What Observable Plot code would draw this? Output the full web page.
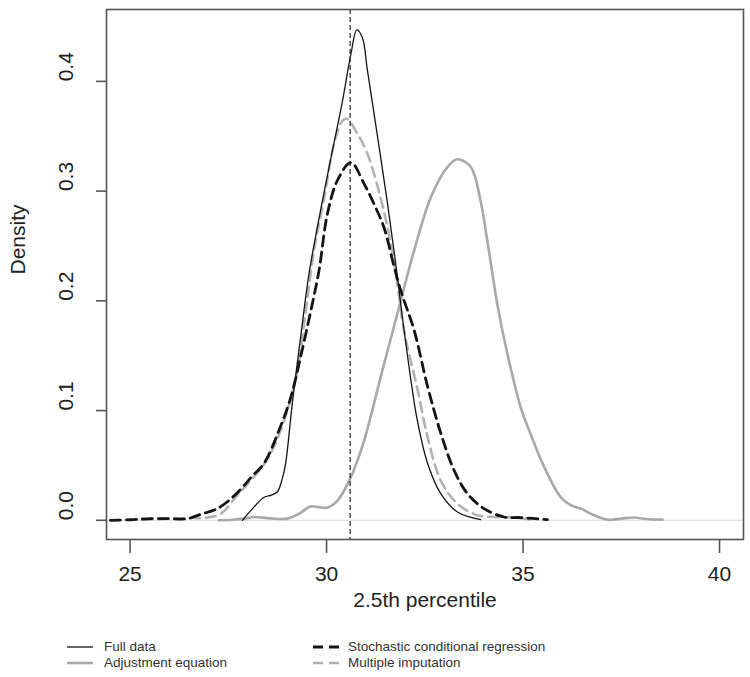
<!DOCTYPE html>
<html>
<head>
<meta charset="utf-8">
<script src="https://cdn.jsdelivr.net/npm/d3@7"></script>
<script src="https://cdn.jsdelivr.net/npm/@observablehq/plot@0.6"></script>
<style>
  html, body { margin: 0; padding: 0; background: #fff; }
  #wrap { width: 750px; font-family: "Liberation Sans", Arial, Helvetica, sans-serif; }
  #legend { position: relative; width: 750px; height: 52px; color: #333; font-size: 13.5px; }
  #legend .item { position: absolute; height: 16px; line-height: 16px; white-space: nowrap; }
  #legend svg { position: absolute; }
</style>
</head>
<body>
<div id="wrap">
  <div id="chart"></div>
  <div id="legend"></div>
</div>
<script>
// ---- data ----
const fullX = [27.86, 28.1, 28.41, 28.6, 28.75, 28.85, 28.95, 29.13, 29.34, 29.55, 29.77, 30.11, 30.40, 30.62, 30.77, 30.91, 31.04, 31.30, 31.55, 31.76, 31.93, 32.19, 32.31, 32.57, 32.91, 33.33, 33.92];
const fullY = [0, 0.010, 0.021, 0.023, 0.026, 0.035, 0.050, 0.107, 0.167, 0.224, 0.268, 0.330, 0.381, 0.425, 0.447, 0.440, 0.410, 0.349, 0.289, 0.234, 0.185, 0.117, 0.091, 0.052, 0.024, 0.0076, 0.0006];

const adjX = [27.26, 27.6, 27.9, 28.15, 28.5, 29.0, 29.3, 29.6, 29.8, 30.02, 30.28, 30.6, 30.95, 31.38, 31.80, 32.23, 32.65, 33.08, 33.33, 33.67, 33.92, 34.09, 34.35, 34.6, 34.94, 35.2, 35.52, 35.96, 36.2, 36.47, 36.81, 37.15, 37.5, 37.82, 38.2, 38.55];
const adjY = [0, 0.0005, 0.0015, 0.003, 0.002, 0.0015, 0.006, 0.0127, 0.012, 0.0116, 0.018, 0.038, 0.072, 0.131, 0.188, 0.246, 0.294, 0.322, 0.329, 0.322, 0.291, 0.255, 0.196, 0.152, 0.103, 0.078, 0.050, 0.021, 0.014, 0.0106, 0.0046, 0.0006, 0.0015, 0.0025, 0.001, 0.0006];

const scrX = [24.5, 25.0, 25.5, 26.0, 26.46, 26.8, 27.22, 27.7, 28.1, 28.41, 28.79, 29.09, 29.34, 29.60, 29.81, 30.02, 30.28, 30.62, 30.95, 31.21, 31.46, 31.72, 31.89, 32.23, 32.57, 32.91, 33.24, 33.59, 34.01, 34.52, 34.94, 35.62];
const scrY = [0, 0.0005, 0.0015, 0.0015, 0.0015, 0.0055, 0.0106, 0.024, 0.040, 0.052, 0.082, 0.112, 0.149, 0.191, 0.228, 0.279, 0.310, 0.326, 0.307, 0.288, 0.267, 0.231, 0.209, 0.173, 0.122, 0.079, 0.046, 0.024, 0.0106, 0.003, 0.0025, 0.0006];

const miX = [25.3, 26.0, 26.5, 26.97, 27.31, 27.73, 27.99, 28.5, 28.92, 29.26, 29.47, 29.68, 29.94, 30.19, 30.40, 30.51, 30.79, 31.04, 31.30, 31.55, 31.76, 31.97, 32.31, 32.57, 32.91, 33.33, 33.84, 34.26, 34.77, 35.2];
const miY = [0.0005, 0.0015, 0.002, 0.0025, 0.006, 0.023, 0.033, 0.056, 0.091, 0.137, 0.191, 0.246, 0.294, 0.343, 0.364, 0.366, 0.352, 0.334, 0.304, 0.267, 0.226, 0.173, 0.120, 0.076, 0.036, 0.015, 0.0046, 0.003, 0.0025, 0.0006];

const refLine = [30.6];
const xTicks = [25, 30, 35, 40];
const yTicks = [0, 0.1, 0.2, 0.3, 0.4];
const xLabel = "2.5th percentile";
const yLabel = "Density";
const legendNames = ["Full data", "Adjustment equation", "Stochastic conditional regression", "Multiple imputation"];

// ---- build tables ----
const toRows = (xs, ys) => xs.map((x, i) => ({x, y: ys[i]}));
const full = toRows(fullX, fullY);
const adj = toRows(adjX, adjY);
const scr = toRows(scrX, scrY);
const mi = toRows(miX, miY);

const BLACK = "#141414", GRAY = "#a9a9a9", GRAY2 = "#b2b2b2";
const DASH = "10,6";
const CURVE = "catmull-rom";

const chart = Plot.plot({
  width: 750,
  height: 625,
  marginLeft: 106,
  marginRight: 7,
  marginTop: 9,
  marginBottom: 86,
  style: {fontFamily: '"Liberation Sans", Arial, Helvetica, sans-serif', color: "#222", background: "#fff"},
  x: {domain: [24.4, 40.61]},
  y: {domain: [-0.0175, 0.4655]},
  marks: [
    Plot.ruleY([0], {stroke: "#dcdcdc", strokeWidth: 1}),
    Plot.line(adj, {x: "x", y: "y", stroke: GRAY, strokeWidth: 2.6, curve: CURVE}),
    Plot.line(mi, {x: "x", y: "y", stroke: GRAY2, strokeWidth: 2.6, strokeDasharray: DASH, curve: CURVE}),
    Plot.line(full, {x: "x", y: "y", stroke: BLACK, strokeWidth: 1.3, curve: CURVE}),
    Plot.line(scr, {x: "x", y: "y", stroke: BLACK, strokeWidth: 2.8, strokeDasharray: DASH, curve: CURVE}),
    Plot.ruleX(refLine, {stroke: "#222", strokeWidth: 1.2, strokeDasharray: "5,3"}),
    Plot.frame({stroke: "#555", strokeWidth: 1.6}),
    Plot.axisX({ticks: xTicks, tickSize: 14, tickPadding: 13, fontSize: 21, stroke: "#555", strokeWidth: 1.6, label: null, tickFormat: d3.format("d")}),
    Plot.axisY({ticks: yTicks, tickSize: 10, tickFormat: () => "", stroke: "#555", strokeWidth: 1.6, label: null}),
    Plot.text(yTicks, {y: d => d, text: d3.format(".1f"), frameAnchor: "left", dx: -40, rotate: -90, fontSize: 21, fill: "#222"}),
    Plot.text([yLabel], {frameAnchor: "left", dx: -88, rotate: -90, fontSize: 21, fill: "#222"}),
    Plot.text([xLabel], {frameAnchor: "bottom", dy: 67, fontSize: 21, fill: "#222"})
  ]
});
document.getElementById("chart").appendChild(chart);

// ---- legend (below the SVG) ----
const legend = document.getElementById("legend");
const items = [
  {name: legendNames[0], col: 0, row: 0, stroke: BLACK, w: 1.3, dash: null},
  {name: legendNames[1], col: 0, row: 1, stroke: GRAY, w: 2.6, dash: null},
  {name: legendNames[2], col: 1, row: 0, stroke: BLACK, w: 2.8, dash: DASH},
  {name: legendNames[3], col: 1, row: 1, stroke: GRAY2, w: 2.6, dash: DASH}
];
const colLine = [67, 313], colText = [104, 348], rowY = [22, 38];
for (const it of items) {
  const s = d3.create("svg").attr("width", 27).attr("height", 8)
    .style("left", colLine[it.col] + "px").style("top", (rowY[it.row] - 4) + "px");
  s.append("line").attr("x1", 0).attr("x2", 26).attr("y1", 4).attr("y2", 4)
    .attr("stroke", it.stroke).attr("stroke-width", it.w)
    .attr("stroke-dasharray", it.dash);
  legend.appendChild(s.node());
  const t = document.createElement("div");
  t.className = "item";
  t.textContent = it.name;
  t.style.left = colText[it.col] + "px";
  t.style.top = (rowY[it.row] - 8) + "px";
  legend.appendChild(t);
}
</script>
</body>
</html>
